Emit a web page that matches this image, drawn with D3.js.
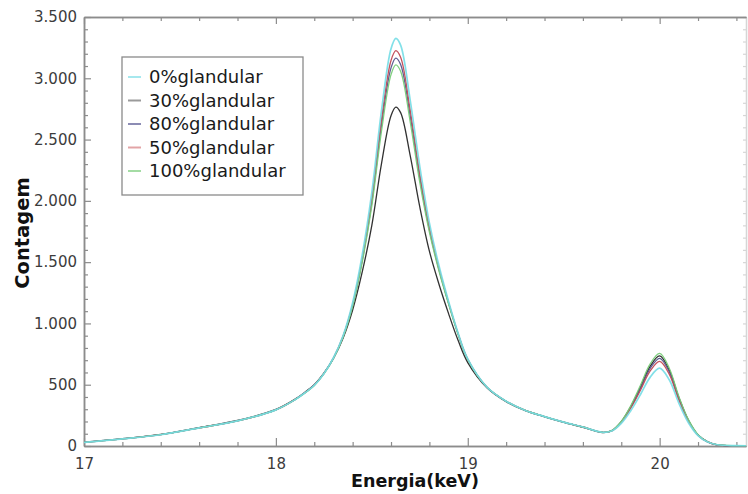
<!DOCTYPE html>
<html>
<head>
<meta charset="utf-8">
<script src="https://cdn.jsdelivr.net/npm/d3@7"></script>
<style>
  body { margin: 0; background: #fff; }
  text { font-family: "DejaVu Sans", Verdana, sans-serif; }
</style>
</head>
<body>
<div id="chart"></div>
<script>
// chart size
var svgWidth = 748;
var svgHeight = 494;

// plot box (pixels)
var plotLeft = 84, plotRight = 746, plotTop = 17, plotBottom = 446;

// data
var energy = [17.0, 17.2, 17.4, 17.6, 17.8, 18.0, 18.1, 18.15, 18.2, 18.25, 18.3, 18.35, 18.4, 18.45, 18.5, 18.55, 18.6, 18.625, 18.65, 18.7, 18.75, 18.8, 18.85, 18.9, 18.95, 19.0, 19.1, 19.2, 19.3, 19.4, 19.5, 19.6, 19.7, 19.75, 19.8, 19.85, 19.9, 19.95, 20.0, 20.05, 20.1, 20.15, 20.2, 20.25, 20.3, 20.4, 20.45];

var glandular0 = [30, 58, 92, 148, 205, 295, 378, 432, 495, 590, 720, 900, 1170, 1560, 2070, 2730, 3240, 3325, 3270, 2820, 2280, 1820, 1470, 1180, 920, 710, 480, 365, 290, 240, 195, 155, 112, 122, 185, 290, 420, 560, 635, 540, 350, 190, 85, 32, 10, 3, 2];
var glandular30 = [32, 60, 95, 150, 208, 298, 382, 437, 500, 594, 715, 880, 1110, 1420, 1800, 2300, 2695, 2765, 2720, 2370, 1950, 1590, 1320, 1080, 860, 680, 475, 362, 288, 238, 193, 153, 110, 124, 198, 322, 482, 650, 735, 620, 396, 210, 90, 34, 10, 3, 2];
var glandular80 = [30, 58, 92, 148, 205, 295, 379, 434, 497, 591, 716, 892, 1148, 1515, 1990, 2610, 3085, 3165, 3113, 2690, 2185, 1765, 1440, 1165, 912, 706, 480, 365, 290, 240, 195, 155, 112, 125, 195, 318, 470, 632, 715, 605, 388, 206, 90, 34, 10, 3, 2];
var glandular50 = [30, 58, 92, 148, 205, 295, 378, 432, 495, 590, 718, 895, 1155, 1530, 2020, 2660, 3145, 3225, 3172, 2740, 2220, 1785, 1450, 1170, 915, 708, 480, 365, 290, 240, 195, 155, 112, 124, 192, 310, 455, 610, 690, 585, 375, 200, 88, 33, 10, 3, 2];
var glandular100 = [30, 58, 92, 148, 205, 295, 378, 431, 494, 588, 714, 888, 1140, 1500, 1960, 2565, 3030, 3110, 3058, 2645, 2150, 1745, 1428, 1158, 908, 704, 480, 365, 290, 240, 195, 155, 112, 126, 200, 330, 495, 668, 755, 635, 405, 215, 93, 35, 11, 3, 2];

var seriesNames = ["0%glandular", "30%glandular", "80%glandular", "50%glandular", "100%glandular"];
var seriesValues = [glandular0, glandular30, glandular80, glandular50, glandular100];
var lineColors = ["#74dde6", "#262626", "#55558c", "#c04a55", "#78cc78"];
var legendColors = ["#a6e8ee", "#9a9a9a", "#8c8cb4", "#e2a4a6", "#a4dca4"];
var drawOrder = [1, 2, 3, 4, 0]; // cyan ends up on top, like the picture

var xMajor = [17, 18, 19, 20];
var yMajor = [0, 500, 1000, 1500, 2000, 2500, 3000, 3500];

var x = d3.scaleLinear().domain([17, 20.45]).range([plotLeft, plotRight]);
var y = d3.scaleLinear().domain([0, 3500]).range([plotBottom, plotTop]);

var xMinor = d3.range(17, 20.45, 0.2).map(v => +v.toFixed(1)).filter(v => xMajor.indexOf(v) < 0);
var yMinor = d3.range(0, 3501, 100).filter(v => v % 500 != 0);

// 3.500 style numbers
var ptBR = d3.formatLocale({ decimal: ",", thousands: ".", grouping: [3], currency: ["", ""] });
var fmt = ptBR.format(",d");

var svg = d3.select("#chart").append("svg")
    .attr("width", svgWidth)
    .attr("height", svgHeight);

svg.append("rect").attr("width", svgWidth).attr("height", svgHeight).attr("fill", "#fff");

var axisColor = "#8c8c8c";
var labelColor = "#3c3c3c";

function styleAxis(g) {
    g.select(".domain").attr("stroke", axisColor).attr("stroke-width", 1.5);
    g.selectAll(".tick line").attr("stroke", axisColor).attr("stroke-width", 1.2);
    g.selectAll(".tick text").attr("fill", labelColor).style("font-size", "15px")
        .style("font-family", "'DejaVu Sans', Verdana, sans-serif");
}

// bottom axis
svg.append("g").attr("transform", `translate(0,${plotBottom})`)
    .call(d3.axisBottom(x).tickValues(xMinor).tickSize(-4).tickSizeOuter(0).tickFormat(""))
    .call(styleAxis);
svg.append("g").attr("transform", `translate(0,${plotBottom})`)
    .call(d3.axisBottom(x).tickValues(xMajor).tickSize(-8).tickSizeOuter(0).tickPadding(12).tickFormat(d3.format("d")))
    .call(styleAxis);

// top axis, ticks only
svg.append("g").attr("transform", `translate(0,${plotTop})`)
    .call(d3.axisTop(x).tickValues(xMinor).tickSize(-4).tickSizeOuter(0).tickFormat(""))
    .call(styleAxis);
svg.append("g").attr("transform", `translate(0,${plotTop})`)
    .call(d3.axisTop(x).tickValues(xMajor).tickSize(-7).tickSizeOuter(0).tickFormat(""))
    .call(styleAxis);

// left axis
svg.append("g").attr("transform", `translate(${plotLeft},0)`)
    .call(d3.axisLeft(y).tickValues(yMinor).tickSize(-4).tickSizeOuter(0).tickFormat(""))
    .call(styleAxis);
svg.append("g").attr("transform", `translate(${plotLeft},0)`)
    .call(d3.axisLeft(y).tickValues(yMajor).tickSize(-7).tickSizeOuter(0).tickPadding(7).tickFormat(fmt))
    .call(styleAxis);

// right edge, faint
svg.append("g").attr("transform", `translate(${plotRight},0)`)
    .call(d3.axisRight(y).tickValues(yMinor.concat(yMajor)).tickSize(-3).tickSizeOuter(0).tickFormat(""))
    .call(styleAxis)
    .attr("opacity", 0.35);

// curves
var line = d3.line()
    .x(d => x(d[0]))
    .y(d => y(Math.max(0, d[1])))
    .curve(d3.curveCatmullRom.alpha(0.5));

var plot = svg.append("g");
drawOrder.forEach(i => {
    plot.append("path")
        .datum(energy.map((e, k) => [e, seriesValues[i][k]]))
        .attr("fill", "none")
        .attr("stroke", lineColors[i])
        .attr("stroke-width", i == 0 ? 1.7 : 1.3)
        .attr("stroke-opacity", i == 0 ? 0.9 : 0.95)
        .attr("d", line);
});

// axis titles
svg.append("text")
    .attr("x", 415)
    .attr("y", 487)
    .attr("text-anchor", "middle")
    .style("font-size", "17.5px")
    .style("font-weight", "bold")
    .attr("fill", "#111")
    .text("Energia(keV)");

svg.append("text")
    .attr("transform", `translate(29,233) rotate(-90)`)
    .attr("text-anchor", "middle")
    .style("font-size", "19.5px")
    .style("font-weight", "bold")
    .attr("fill", "#111")
    .text("Contagem");

// legend
var legendG = svg.append("g");
legendG.append("rect")
    .attr("x", 122).attr("y", 57)
    .attr("width", 181).attr("height", 138)
    .attr("fill", "#fff")
    .attr("stroke", "#8a8a8a")
    .attr("stroke-width", 1.3);

seriesNames.forEach((name, i) => {
    var yy = 77 + i * 23.5;
    legendG.append("line")
        .attr("x1", 128).attr("x2", 141)
        .attr("y1", yy).attr("y2", yy)
        .attr("stroke", legendColors[i])
        .attr("stroke-width", 2);
    legendG.append("text")
        .attr("x", 149)
        .attr("y", yy)
        .attr("dy", "0.36em")
        .style("font-size", "18px")
        .attr("fill", "#1a1a1a")
        .text(name);
});
</script>
</body>
</html>
